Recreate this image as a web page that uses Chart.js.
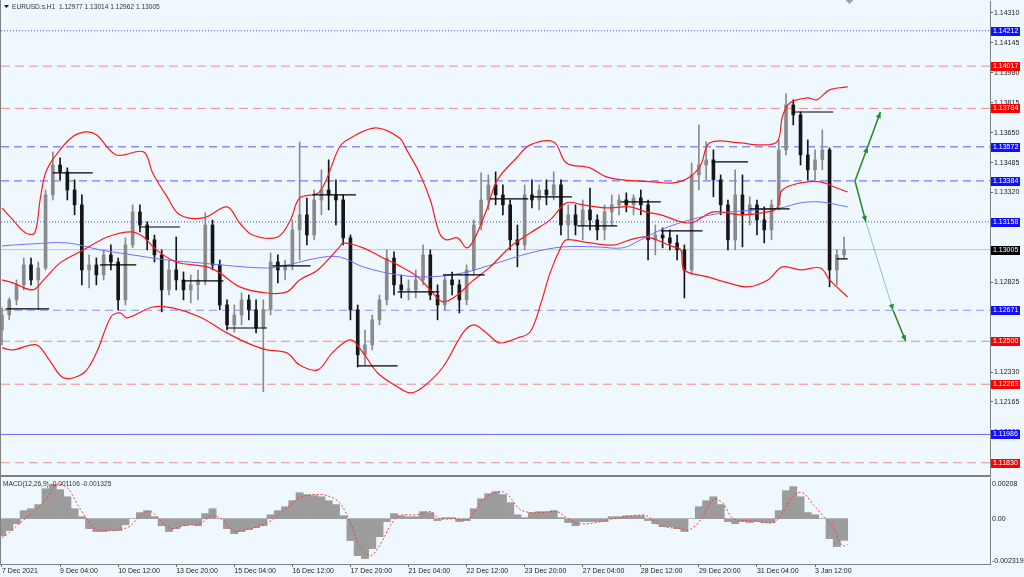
<!DOCTYPE html>
<html>
<head>
<meta charset="utf-8">
<script src="https://cdn.jsdelivr.net/npm/chart.js@4.4.0/dist/chart.umd.min.js"></script>
<style>
  html, body { margin: 0; padding: 0; background: #f0f8ff; }
  body { width: 1024px; height: 577px; position: relative; overflow: hidden; }
  #main { position: absolute; left: 0; top: 0; }
  #macd { position: absolute; left: 0; top: 470px; }
</style>
</head>
<body>
<canvas id="main" width="1024" height="477"></canvas>
<canvas id="macd" width="1024" height="107"></canvas>
<script>
/* EURUSD H1 snapshot: 4-hour candles on the hourly bar index,
 * Bollinger bands, moving average, daily levels, MACD panel. */

const TITLE = 'EURUSD.s,H1  1.12977 1.13014 1.12962 1.13005';
const MACD_TITLE = 'MACD(12,26,9) -0.001106 -0.001325';

// x axis: hourly bar number since 7 Dec 2021 20:00
const TICK_BARS = [0, 32, 64, 96, 128, 160, 192, 224, 256, 288, 320, 352, 384, 416, 448];
const TICK_LABELS = ['7 Dec 2021', '9 Dec 04:00', '10 Dec 12:00', '13 Dec 20:00', '15 Dec 04:00',
  '16 Dec 12:00', '17 Dec 20:00', '21 Dec 04:00', '22 Dec 12:00', '23 Dec 20:00',
  '27 Dec 04:00', '28 Dec 12:00', '29 Dec 20:00', '31 Dec 04:00', '3 Jan 12:00'];

const PRICE_TICKS = [1.14310, 1.14145, 1.13980, 1.13815, 1.13650, 1.13485, 1.13320, 1.13155,
  1.12990, 1.12825, 1.12660, 1.12495, 1.12330, 1.12165, 1.12000, 1.11835];

const OPEN = [
  1.12562, 1.12645, 1.12728, 1.12811, 1.12921, 1.12838, 1.12904, 1.13307, 1.13472, 1.13434,
  1.13334, 1.13252, 1.12893, 1.12921, 1.12866, 1.12976, 1.12937, 1.12728, 1.13031, 1.13213,
  1.13141, 1.13059, 1.12976, 1.12783, 1.12893, 1.12838, 1.12783, 1.12811, 1.12838, 1.13141,
  1.12921, 1.12700, 1.12590, 1.12645, 1.12728, 1.12673, 1.12573, 1.12673, 1.12937, 1.12893,
  1.12921, 1.13114, 1.13197, 1.13086, 1.13279, 1.13334, 1.13307, 1.13279, 1.13070, 1.12673,
  1.12425, 1.12480, 1.12618, 1.12728, 1.12959, 1.12811, 1.12783, 1.12783, 1.12838, 1.12976,
  1.12755, 1.12700, 1.12838, 1.12811, 1.12728, 1.12893, 1.13141, 1.13279, 1.13362, 1.13307,
  1.13252, 1.13059, 1.13031, 1.13307, 1.13279, 1.13334, 1.13307, 1.13362, 1.13141, 1.13197,
  1.13141, 1.13224, 1.13169, 1.13114, 1.13213, 1.13252, 1.13279, 1.13252, 1.13290, 1.13252,
  1.13059, 1.13086, 1.13070, 1.13042, 1.13004, 1.12893, 1.13417, 1.13472, 1.13500, 1.13390,
  1.13252, 1.13059, 1.13307, 1.13197, 1.13252, 1.13169, 1.13114, 1.13252, 1.13555, 1.13803,
  1.13748, 1.13527, 1.13445, 1.13500, 1.13555, 1.12893, 1.12976];
const HIGH = [
  1.12684, 1.12739, 1.12838, 1.12959, 1.12959, 1.12937, 1.13334, 1.13544, 1.13511, 1.13456,
  1.13390, 1.13307, 1.12976, 1.12959, 1.13004, 1.13031, 1.12959, 1.13070, 1.13252, 1.13252,
  1.13158, 1.13086, 1.13004, 1.12948, 1.13075, 1.12882, 1.12866, 1.12893, 1.13208, 1.13169,
  1.12948, 1.12728, 1.12700, 1.12766, 1.12755, 1.12728, 1.12728, 1.12987, 1.12976, 1.12948,
  1.13169, 1.13599, 1.13290, 1.13334, 1.13445, 1.13500, 1.13390, 1.13307, 1.13086, 1.12700,
  1.12562, 1.12645, 1.12755, 1.13004, 1.12993, 1.12866, 1.12838, 1.12893, 1.13031, 1.13004,
  1.12811, 1.12866, 1.12882, 1.12838, 1.12921, 1.13169, 1.13428, 1.13417, 1.13434, 1.13362,
  1.13279, 1.13141, 1.13362, 1.13390, 1.13362, 1.13390, 1.13434, 1.13390, 1.13252, 1.13252,
  1.13279, 1.13345, 1.13197, 1.13252, 1.13307, 1.13307, 1.13318, 1.13307, 1.13334, 1.13279,
  1.13141, 1.13125, 1.13114, 1.13086, 1.13031, 1.13483, 1.13693, 1.13599, 1.13555, 1.13417,
  1.13279, 1.13445, 1.13417, 1.13296, 1.13279, 1.13241, 1.13279, 1.13610, 1.13864, 1.13831,
  1.13764, 1.13610, 1.13555, 1.13665, 1.13566, 1.13004, 1.13075];
const LOW = [
  1.12480, 1.12618, 1.12700, 1.12783, 1.12811, 1.12673, 1.12893, 1.13279, 1.13390, 1.13279,
  1.13197, 1.12811, 1.12794, 1.12811, 1.12838, 1.12893, 1.12673, 1.12700, 1.13015, 1.13103,
  1.13004, 1.12937, 1.12662, 1.12755, 1.12783, 1.12728, 1.12711, 1.12728, 1.12811, 1.12893,
  1.12673, 1.12562, 1.12551, 1.12590, 1.12618, 1.12546, 1.12221, 1.12645, 1.12822, 1.12838,
  1.12893, 1.12948, 1.13031, 1.13059, 1.13197, 1.13224, 1.13141, 1.13031, 1.12618, 1.12358,
  1.12369, 1.12452, 1.12590, 1.12700, 1.12755, 1.12739, 1.12728, 1.12739, 1.12811, 1.12728,
  1.12618, 1.12673, 1.12755, 1.12656, 1.12700, 1.12866, 1.13114, 1.13224, 1.13252, 1.13197,
  1.13004, 1.12910, 1.13004, 1.13235, 1.13224, 1.13252, 1.13279, 1.13086, 1.13059, 1.13086,
  1.13059, 1.13114, 1.13059, 1.13059, 1.13141, 1.13197, 1.13213, 1.13197, 1.13197, 1.12948,
  1.12976, 1.13015, 1.13004, 1.12948, 1.12739, 1.12866, 1.13334, 1.13390, 1.13296, 1.13197,
  1.13004, 1.13004, 1.13020, 1.13141, 1.13086, 1.13042, 1.13059, 1.13224, 1.13527, 1.13693,
  1.13472, 1.13390, 1.13390, 1.13445, 1.12800, 1.12811, 1.12959];
const CLOSE = [
  1.12645, 1.12728, 1.12811, 1.12921, 1.12838, 1.12904, 1.13307, 1.13472, 1.13434, 1.13334,
  1.13252, 1.12893, 1.12921, 1.12866, 1.12976, 1.12937, 1.12728, 1.13031, 1.13213, 1.13141,
  1.13059, 1.12976, 1.12783, 1.12893, 1.12838, 1.12783, 1.12811, 1.12838, 1.13141, 1.12921,
  1.12700, 1.12590, 1.12645, 1.12728, 1.12673, 1.12573, 1.12673, 1.12937, 1.12893, 1.12921,
  1.13114, 1.13197, 1.13086, 1.13279, 1.13334, 1.13307, 1.13279, 1.13070, 1.12673, 1.12425,
  1.12480, 1.12618, 1.12728, 1.12959, 1.12811, 1.12783, 1.12783, 1.12838, 1.12976, 1.12755,
  1.12700, 1.12838, 1.12811, 1.12728, 1.12893, 1.13141, 1.13279, 1.13362, 1.13307, 1.13252,
  1.13059, 1.13031, 1.13307, 1.13279, 1.13334, 1.13307, 1.13362, 1.13141, 1.13197, 1.13141,
  1.13224, 1.13169, 1.13114, 1.13213, 1.13252, 1.13279, 1.13252, 1.13290, 1.13252, 1.13059,
  1.13086, 1.13070, 1.13042, 1.13004, 1.12893, 1.13417, 1.13472, 1.13500, 1.13390, 1.13252,
  1.13059, 1.13307, 1.13197, 1.13252, 1.13169, 1.13114, 1.13252, 1.13555, 1.13803, 1.13748,
  1.13527, 1.13445, 1.13500, 1.13555, 1.12893, 1.12976, 1.13005];

// Bollinger bands and moving average, read at their own bar positions
const UPPER_BARS = [0, 6, 13, 18, 21, 24, 29, 38, 46, 52, 63, 78, 83, 91, 98, 111, 124, 131, 138, 152,
  159, 164, 175, 186, 192, 206, 219, 223, 230, 236, 241, 245, 251, 256, 260, 267, 273, 284, 291, 304,
  311, 324, 333, 342, 359, 370, 379, 385, 390, 407, 416, 427, 430, 434, 444, 449, 456, 466];
const UPPER = [1.13235, 1.13169, 1.13097, 1.13097, 1.13279, 1.13428, 1.13516, 1.13621, 1.13654, 1.13638,
  1.13527, 1.13544, 1.13428, 1.13296, 1.13197, 1.13180, 1.13241, 1.13152, 1.13086, 1.13075,
  1.13169, 1.13290, 1.13323, 1.13571, 1.13621, 1.13676, 1.13621, 1.13555, 1.13428, 1.13279,
  1.13097, 1.13059, 1.13070, 1.13015, 1.13059, 1.13224, 1.13390, 1.13516, 1.13583, 1.13599,
  1.13483, 1.13456, 1.13406, 1.13390, 1.13379, 1.13373, 1.13406, 1.13472, 1.13594, 1.13594,
  1.13583, 1.13599, 1.13737, 1.13814, 1.13842, 1.13831, 1.13886, 1.13902];
const MIDDLE_BARS = [0, 6, 17, 23, 32, 45, 58, 71, 78, 85, 96, 113, 120, 131, 146, 157, 164, 174, 186, 188,
  199, 210, 218, 229, 236, 243, 251, 258, 269, 280, 291, 302, 311, 320, 333, 346, 355, 363, 379, 392,
  407, 422, 427, 430, 440, 451, 460, 466];
const MIDDLE = [1.12838, 1.12822, 1.12783, 1.12838, 1.12932, 1.13004, 1.13075, 1.13103, 1.13075, 1.13004,
  1.12937, 1.12910, 1.12877, 1.12800, 1.12766, 1.12772, 1.12838, 1.12893, 1.13020, 1.13042,
  1.13015, 1.12959, 1.12921, 1.12855, 1.12783, 1.12717, 1.12755, 1.12822, 1.12910, 1.13020,
  1.13097, 1.13169, 1.13263, 1.13252, 1.13235, 1.13241, 1.13213, 1.13197, 1.13152, 1.13213,
  1.13197, 1.13213, 1.13235, 1.13334, 1.13373, 1.13379, 1.13345, 1.13323];
const LOWER_BARS = [0, 6, 19, 26, 34, 45, 52, 60, 65, 69, 83, 94, 109, 124, 135, 146, 157, 164, 174, 182,
  192, 199, 207, 218, 225, 232, 243, 254, 260, 267, 274, 284, 291, 297, 302, 308, 311, 324, 337, 346,
  355, 370, 374, 376, 389, 400, 411, 422, 430, 440, 451, 456, 466];
const LOWER = [1.12463, 1.12452, 1.12480, 1.12397, 1.12298, 1.12325, 1.12436, 1.12634, 1.12656, 1.12629,
  1.12689, 1.12684, 1.12634, 1.12546, 1.12491, 1.12452, 1.12436, 1.12369, 1.12342, 1.12436,
  1.12507, 1.12436, 1.12325, 1.12248, 1.12215, 1.12248, 1.12358, 1.12546, 1.12590, 1.12546,
  1.12491, 1.12518, 1.12551, 1.12711, 1.12877, 1.13020, 1.13059, 1.13042, 1.13031, 1.13059,
  1.13075, 1.13020, 1.13004, 1.12893, 1.12855, 1.12822, 1.12800, 1.12838, 1.12910, 1.12893,
  1.12904, 1.12838, 1.12744];
const MA_BARS = [0, 17, 36, 54, 72, 91, 109, 127, 146, 155, 174, 186, 199, 218, 236, 254, 273, 291, 309, 328,
  342, 352, 363, 379, 397, 416, 429, 440, 451, 466];
const MA = [1.13026, 1.13037, 1.13042, 1.13004, 1.12976, 1.12948, 1.12932, 1.12915, 1.12904, 1.12915,
  1.12959, 1.12965, 1.12910, 1.12866, 1.12855, 1.12877, 1.12932, 1.12987, 1.13020, 1.13020,
  1.13015, 1.13059, 1.13114, 1.13169, 1.13208, 1.13224, 1.13235, 1.13263, 1.13268, 1.13241];

// short black daily level segments
const SEG_START = [2, 28, 54, 76, 99, 124, 149, 171, 196, 218, 243, 269, 292, 317, 341, 363, 391, 412, 436, 460];
const SEG_END = [26, 50, 74, 98, 122, 146, 170, 195, 218, 241, 266, 290, 314, 339, 363, 386, 411, 434, 458, 466];
const SEG_LEVEL = [1.12678, 1.13428, 1.12921, 1.13130, 1.12833, 1.12573, 1.12915, 1.13307, 1.12364, 1.12772,
  1.12866, 1.13285, 1.13296, 1.13136, 1.13268, 1.13108, 1.13489, 1.13230, 1.13764, 1.12954];

// horizontal levels with price tags
const LEVELS = [1.14212, 1.14017, 1.13784, 1.13572, 1.13384, 1.13158, 1.13005, 1.12671, 1.12500, 1.12263, 1.11986, 1.11830];

// projected paths
const UP_ARROW_BARS = [470, 477, 484];
const UP_ARROW = [1.13384, 1.13572, 1.13764];
const DOWN_ARROW_BARS = [470, 476, 491, 498];
const DOWN_ARROW = [1.13384, 1.13158, 1.12671, 1.12500];

// MACD histogram per 4-hour candle, signal at its own bar positions
const MACD_HIST = [
  -0.00087, -0.00061, -0.00026, 0.00041, 0.00051, 0.00072, 0.00153, 0.00174, 0.00148, 0.00112,
  0.00051, 0.00010, -0.00051, -0.00066, -0.00066, -0.00061, -0.00061, -0.00031, 0, 0.00031,
  0.00041, 0.00010, -0.00036, -0.00066, -0.00051, -0.00036, -0.00031, -0.00036, 0.00026, 0.00051,
  0, -0.00051, -0.00077, -0.00066, -0.00056, -0.00046, -0.00036, 0.00020, 0.00041, 0.00061,
  0.00092, 0.00133, 0.00123, 0.00118, 0.00112, 0.00092, 0.00072, 0.00015, -0.00112, -0.00189,
  -0.00204, -0.00153, -0.00092, -0.00015, 0.00026, 0.00015, 0.00010, 0.00010, 0.00036, 0.00031,
  -0.00010, 0.00005, 0.00005, -0.00015, -0.00010, 0.00051, 0.00102, 0.00128, 0.00138, 0.00123,
  0.00082, 0.00020, 0.00005, 0.00031, 0.00036, 0.00036, 0.00041, 0.00005, -0.00020, -0.00036,
  -0.00015, -0.00015, -0.00015, -0.00015, 0.00010, 0.00010, 0.00015, 0.00015, 0.00015, -0.00010,
  -0.00026, -0.00041, -0.00041, -0.00051, -0.00066, 0, 0.00061, 0.00092, 0.00112, 0.00072,
  -0.00015, -0.00026, -0.00015, -0.00020, -0.00015, -0.00020, -0.00020, 0.00041, 0.00143, 0.00164,
  0.00112, 0.00031, 0.00020, 0, -0.00102, -0.00143, -0.00111];
const SIGNAL_BARS = [0, 4, 10, 17, 25, 30, 36, 41, 47, 52, 58, 65, 71, 76, 82, 87, 93, 100, 109, 116,
  122, 127, 135, 144, 149, 157, 164, 171, 179, 186, 192, 197, 203, 208, 214, 219, 229, 236, 241, 249,
  256, 260, 265, 273, 278, 285, 291, 298, 306, 311, 319, 330, 337, 348, 355, 363, 374, 379, 385, 392,
  397, 403, 414, 425, 430, 436, 441, 447, 452, 458, 463, 466];
const SIGNAL = [-0.00097, -0.00072, -0.00020, 0.00031, 0.00107, 0.00174, 0.00158, 0.00082, -0.00005, -0.00056,
  -0.00061, -0.00056, -0.00036, 0.00015, 0.00036, -0.00005, -0.00051, -0.00036, -0.00026, 0.00015,
  -0.00010, -0.00061, -0.00056, -0.00031, -0.00005, 0.00056, 0.00107, 0.00123, 0.00118, 0.00082,
  -0.00020, -0.00138, -0.00189, -0.00138, -0.00036, 0.00015, 0.00020, 0.00036, 0, 0,
  -0.00005, 0.00031, 0.00097, 0.00138, 0.00128, 0.00051, 0.00031, 0.00031, 0.00036, 0.00005,
  -0.00026, -0.00015, 0, 0.00015, 0.00015, -0.00036, -0.00051, -0.00056, -0.00005, 0.00097,
  0.00082, 0, -0.00010, -0.00020, 0.00031, 0.00118, 0.00133, 0.00072, 0.00020, -0.00046,
  -0.00138, -0.00133];
const MACD_MAX = 0.00208;
const MACD_MIN = -0.002319;

// ---- view ranges and styles ----
const X_MIN = -0.55;
const X_MAX = 544.4;
const Y_MIN = 1.11768;
const Y_MAX = 1.14376;
const FONT = '"Liberation Sans", Arial, sans-serif';
const TEXT = '#222';
const FRAME = '#808080';

const STYLES = {
  blueDot: { color: '#4646ff', dash: [1, 2], tag: '#1010ff' },
  red: { color: '#f28b8b', dash: [9, 5], tag: '#ff0000' },
  blue: { color: '#5a5aff', dash: [8, 5], tag: '#1010ff' },
  bid: { color: '#c4c4c4', dash: [], tag: '#000000' },
  blueLight: { color: '#8c8cff', dash: [8, 5], tag: '#1010ff' },
  blueSolid: { color: '#6c6cff', dash: [], tag: '#1010ff' },
};
const levelStyles = ['blueDot', 'red', 'red', 'blue', 'blue', 'blueDot', 'bid', 'blueLight', 'red', 'red', 'blueSolid', 'red']
  .map((k) => STYLES[k]);

const candleBars = OPEN.map((_, k) => k * 4); // one candle per 4 hourly bars
const candleColor = CLOSE.map((c, k) => (c >= OPEN[k] ? '#8a8a8a' : '#161616'));
const pts = (xs, ys) => xs.map((x, i) => ({ x, y: ys[i] }));

function segmentPoints() {
  const out = [];
  SEG_LEVEL.forEach((v, i) => {
    out.push({ x: SEG_START[i], y: v }, { x: SEG_END[i], y: v }, { x: SEG_END[i] + 0.1, y: null });
  });
  return out;
}

function drawHead(ctx, x0, y0, x1, y1, color) {
  const a = Math.atan2(y1 - y0, x1 - x0);
  ctx.save();
  ctx.translate(x1, y1);
  ctx.rotate(a);
  ctx.beginPath();
  ctx.moveTo(0, 0);
  ctx.lineTo(-6, -2.6);
  ctx.lineTo(-6, 2.6);
  ctx.closePath();
  ctx.fillStyle = color;
  ctx.fill();
  ctx.restore();
}

const mainDecor = {
  id: 'mainDecor',
  afterDatasetsDraw(chart) {
    const { ctx, scales: { x, y } } = chart;
    [[UP_ARROW_BARS, UP_ARROW], [DOWN_ARROW_BARS, DOWN_ARROW]].forEach(([bx, by]) => {
      for (let i = 1; i < bx.length; i++) {
        drawHead(ctx, x.getPixelForValue(bx[i - 1]), y.getPixelForValue(by[i - 1]),
          x.getPixelForValue(bx[i]), y.getPixelForValue(by[i]), '#2b8a2b');
      }
    });
  },
  afterDraw(chart) {
    const { ctx, chartArea, scales: { x, y } } = chart;
    ctx.save();
    // frame
    ctx.fillStyle = FRAME;
    ctx.fillRect(0, 0, 1, chart.height);
    ctx.fillRect(0, chartArea.bottom + 1, y.left + 1, 2);
    // shift marker
    const mx = x.getPixelForValue(467);
    ctx.fillStyle = '#a0a0a0';
    ctx.beginPath();
    ctx.moveTo(mx - 4, 0);
    ctx.lineTo(mx + 4, 0);
    ctx.lineTo(mx, 4);
    ctx.closePath();
    ctx.fill();
    // price tags
    ctx.font = `7px ${FONT}`;
    ctx.textBaseline = 'middle';
    ctx.textAlign = 'left';
    LEVELS.forEach((v, i) => {
      const py = Math.round(y.getPixelForValue(v));
      ctx.fillStyle = levelStyles[i].tag;
      ctx.fillRect(y.left + 1, py - 4, 29, 9);
      ctx.fillStyle = '#ffffff';
      ctx.fillText(v.toFixed(5), y.left + 3, py + 0.5);
    });
    // title
    ctx.fillStyle = '#111';
    ctx.beginPath();
    ctx.moveTo(4, 5);
    ctx.lineTo(9, 5);
    ctx.lineTo(6.5, 8);
    ctx.closePath();
    ctx.fill();
    ctx.fillStyle = '#333';
    ctx.font = `6.6px ${FONT}`;
    ctx.fillText(TITLE, 12, 7);
    ctx.restore();
  },
};

const datasets = [];
LEVELS.forEach((v, i) => {
  datasets.push({
    type: 'line',
    data: [{ x: X_MIN, y: v }, { x: X_MAX, y: v }],
    borderColor: levelStyles[i].color,
    borderDash: levelStyles[i].dash,
    borderWidth: 1,
    pointRadius: 0,
    order: 10,
  });
});
datasets.push({
  type: 'bar',
  data: candleBars.map((b, k) => ({ x: b, y: [LOW[k], HIGH[k]] })),
  backgroundColor: candleColor,
  barThickness: 1,
  grouped: false,
  order: 6,
});
datasets.push({
  type: 'bar',
  data: candleBars.map((b, k) => ({ x: b, y: [Math.min(OPEN[k], CLOSE[k]), Math.max(OPEN[k], CLOSE[k])] })),
  backgroundColor: candleColor,
  barThickness: 3,
  minBarLength: 1,
  grouped: false,
  order: 5,
});
[[UPPER_BARS, UPPER], [MIDDLE_BARS, MIDDLE], [LOWER_BARS, LOWER]].forEach(([bx, by]) => {
  datasets.push({
    type: 'line', data: pts(bx, by), borderColor: '#ff1a1a', borderWidth: 1.2,
    pointRadius: 0, tension: 0.35, order: 3,
  });
});
datasets.push({
  type: 'line', data: pts(MA_BARS, MA), borderColor: '#6f6fff', borderWidth: 1,
  pointRadius: 0, tension: 0.35, order: 3,
});
datasets.push({
  type: 'line', data: segmentPoints(), borderColor: '#000000', borderWidth: 1.2,
  pointRadius: 0, spanGaps: false, order: 2,
});
datasets.push({
  type: 'line', data: pts(UP_ARROW_BARS, UP_ARROW), borderColor: '#2b8a2b', borderWidth: 1.6,
  pointRadius: 0, order: 1,
});
datasets.push({
  type: 'line', data: pts(DOWN_ARROW_BARS, DOWN_ARROW), borderColor: '#2b8a2b', borderWidth: 1.6,
  pointRadius: 0, order: 1,
  segment: {
    borderColor: (c) => (c.p0DataIndex === 1 ? 'rgba(43,138,43,0.45)' : '#2b8a2b'),
    borderWidth: (c) => (c.p0DataIndex === 1 ? 1 : 1.6),
  },
});

new Chart(document.getElementById('main'), {
  type: 'bar',
  data: { datasets },
  options: {
    responsive: false,
    animation: false,
    devicePixelRatio: 1,
    layout: { padding: { left: 1, top: 1, right: 0, bottom: 3 } },
    plugins: { legend: { display: false }, tooltip: { enabled: false } },
    scales: {
      x: { type: 'linear', min: X_MIN, max: X_MAX, offset: false, display: false },
      y: {
        type: 'linear',
        position: 'right',
        min: Y_MIN,
        max: Y_MAX,
        afterFit: (s) => { s.width = 34; s.paddingTop = 0; s.paddingBottom = 0; },
        afterBuildTicks: (s) => { s.ticks = PRICE_TICKS.map((v) => ({ value: v })); },
        ticks: {
          autoSkip: false,
          padding: 1,
          color: TEXT,
          font: { family: FONT, size: 7 },
          callback: (v) => Number(v).toFixed(5),
        },
        grid: { drawOnChartArea: false, drawTicks: true, tickLength: 3, color: '#666' },
        border: { display: true, color: FRAME, width: 1 },
      },
    },
  },
  plugins: [mainDecor],
});

const macdDecor = {
  id: 'macdDecor',
  afterDraw(chart) {
    const { ctx, chartArea, scales: { y } } = chart;
    ctx.save();
    ctx.fillStyle = FRAME;
    ctx.fillRect(0, chartArea.top - 1, 1, chartArea.bottom - chartArea.top + 2);
    ctx.font = `6.6px ${FONT}`;
    ctx.textBaseline = 'middle';
    ctx.textAlign = 'left';
    ctx.fillStyle = '#333';
    ctx.fillText(MACD_TITLE, 3, chartArea.top + 6);
    ctx.fillStyle = TEXT;
    ctx.font = `7px ${FONT}`;
    const lx = y.left + 2;
    ctx.fillText(MACD_MAX.toFixed(5), lx, chartArea.top + 6);
    ctx.fillText('0.00', lx, y.getPixelForValue(0));
    ctx.fillText(MACD_MIN.toFixed(6), lx, chartArea.bottom - 3);
    ctx.restore();
  },
};

new Chart(document.getElementById('macd'), {
  type: 'bar',
  data: {
    datasets: [
      {
        type: 'line', data: pts(SIGNAL_BARS, SIGNAL), borderColor: '#ff3b3b', borderWidth: 1,
        borderDash: [2, 2], pointRadius: 0, tension: 0.35, order: 1,
      },
      {
        type: 'bar', data: candleBars.map((b, k) => ({ x: b, y: MACD_HIST[k] })),
        backgroundColor: '#9c9c9c', barPercentage: 1, categoryPercentage: 1, grouped: false, order: 2,
      },
    ],
  },
  options: {
    responsive: false,
    animation: false,
    devicePixelRatio: 1,
    layout: { padding: { left: 1, top: 8, right: 0, bottom: 0 } },
    plugins: { legend: { display: false }, tooltip: { enabled: false } },
    scales: {
      x: {
        type: 'linear',
        min: X_MIN,
        max: X_MAX,
        offset: false,
        afterFit: (s) => { s.height = 13; },
        afterBuildTicks: (s) => { s.ticks = TICK_BARS.map((v) => ({ value: v })); },
        ticks: {
          autoSkip: false,
          maxRotation: 0,
          minRotation: 0,
          align: 'start',
          padding: 0,
          color: TEXT,
          font: { family: FONT, size: 7 },
          callback: (v, i) => TICK_LABELS[i],
        },
        grid: { drawOnChartArea: false, drawTicks: true, tickLength: 3, color: '#666', offset: false },
        border: { display: true, color: FRAME, width: 1 },
      },
      y: {
        type: 'linear',
        position: 'right',
        min: MACD_MIN,
        max: MACD_MAX,
        afterFit: (s) => { s.width = 34; },
        ticks: { display: false },
        grid: { display: false },
        border: { display: true, color: FRAME, width: 1 },
      },
    },
  },
  plugins: [macdDecor],
});
</script>
</body>
</html>
